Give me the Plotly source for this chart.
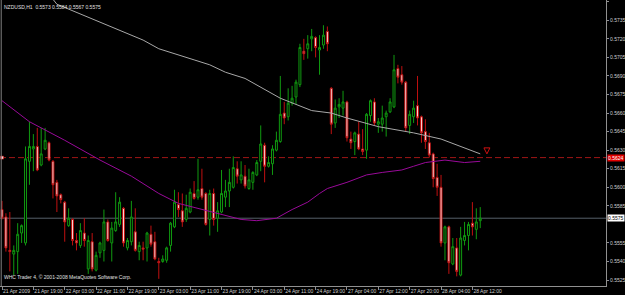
import plotly.graph_objects as go

symbol_header = "NZDUSD,H1  0.5573 0.5584 0.5567 0.5575"
footer_text = "WHC Trader 4, © 2001-2008 MetaQuotes Software Corp."

opens = [0.5582,0.5576,0.5549,0.5546,0.5548,0.5563,0.5555,0.5621,0.5631,0.5633,
         0.5618,0.5631,0.5636,0.5621,0.5604,0.5594,0.5588,0.5569,0.5574,0.5557,
         0.5553,0.5563,0.5534,0.5556,0.5533,0.5547,0.5549,0.5572,0.5555,0.5565,
         0.5570,0.5583,0.5551,0.5556,0.5564,0.5548,0.5551,0.5551,0.5562,0.5556,
         0.5540,0.5540,0.5541,0.5553,0.5568,0.5586,0.5581,0.5574,0.5580,0.5595,
         0.5592,0.5599,0.5595,0.5574,0.5595,0.5575,0.5580,0.5592,0.5597,0.5600,
         0.5615,0.5606,0.5609,0.5599,0.5604,0.5610,0.5621,0.5634,0.5617,0.5619,
         0.5630,0.5637,0.5660,0.5657,0.5668,0.5673,0.5683,0.5710,0.5712,0.5720,
         0.5721,0.5711,0.5715,0.5726,0.5680,0.5652,0.5665,0.5664,0.5669,0.5639,
         0.5637,0.5643,0.5631,0.5630,0.5658,0.5669,0.5651,0.5651,0.5657,0.5661,
         0.5665,0.5696,0.5691,0.5685,0.5650,0.5657,0.5666,0.5657,0.5645,0.5636,
         0.5627,0.5608,0.5600,0.5555,0.5568,0.5538,0.5551,0.5529,0.5557,0.5561,
         0.5571,0.5566,0.5573]
highs = [0.5589,0.5579,0.5580,0.5553,0.5571,0.5570,0.5633,0.5653,0.5643,0.5648,
         0.5648,0.5648,0.5637,0.5622,0.5606,0.5595,0.5589,0.5583,0.5575,0.5563,
         0.5571,0.5575,0.5561,0.5563,0.5548,0.5556,0.5582,0.5574,0.5572,0.5596,
         0.5592,0.5584,0.5559,0.5589,0.5583,0.5556,0.5556,0.5564,0.5569,0.5564,
         0.5543,0.5545,0.5552,0.5572,0.5598,0.5596,0.5595,0.5594,0.5599,0.5605,
         0.5623,0.5615,0.5596,0.5598,0.5599,0.5588,0.5614,0.5606,0.5615,0.5625,
         0.5621,0.5621,0.5618,0.5615,0.5613,0.5622,0.5650,0.5636,0.5625,0.5634,
         0.5645,0.5690,0.5669,0.5680,0.5682,0.5687,0.5716,0.5720,0.5723,0.5728,
         0.5722,0.5723,0.5731,0.5730,0.5681,0.5671,0.5672,0.5678,0.5670,0.5645,
         0.5645,0.5653,0.5647,0.5660,0.5671,0.5672,0.5656,0.5666,0.5662,0.5672,
         0.5707,0.5699,0.5698,0.5686,0.5662,0.5670,0.5690,0.5658,0.5655,0.5644,
         0.5628,0.5619,0.5610,0.5569,0.5569,0.5559,0.5559,0.5568,0.5572,0.5572,
         0.5588,0.5583,0.5584]
lows = [0.5574,0.5548,0.5532,0.5529,0.5530,0.5555,0.5553,0.5602,0.5613,0.5613,
        0.5617,0.5630,0.5621,0.5591,0.5580,0.5587,0.5556,0.5568,0.5553,0.5549,
        0.5551,0.5552,0.5530,0.5532,0.5532,0.5543,0.5540,0.5556,0.5540,0.5564,
        0.5568,0.5552,0.5549,0.5553,0.5548,0.5541,0.5541,0.5540,0.5552,0.5541,
        0.5526,0.5539,0.5539,0.5548,0.5567,0.5576,0.5568,0.5572,0.5579,0.5590,
        0.5590,0.5590,0.5569,0.5561,0.5569,0.5564,0.5579,0.5584,0.5584,0.5599,
        0.5603,0.5603,0.5599,0.5598,0.5598,0.5609,0.5613,0.5604,0.5616,0.5610,
        0.5629,0.5636,0.5651,0.5654,0.5666,0.5667,0.5681,0.5703,0.5704,0.5710,
        0.5705,0.5691,0.5712,0.5710,0.5643,0.5648,0.5656,0.5658,0.5637,0.5631,
        0.5626,0.5630,0.5626,0.5623,0.5653,0.5650,0.5644,0.5645,0.5641,0.5660,
        0.5664,0.5684,0.5683,0.5645,0.5643,0.5652,0.5650,0.5636,0.5631,0.5624,
        0.5600,0.5593,0.5552,0.5541,0.5530,0.5537,0.5528,0.5528,0.5553,0.5549,
        0.5561,0.5558,0.5567]
closes = [0.5575,0.5551,0.5548,0.5549,0.5562,0.5569,0.5623,0.5633,0.5633,0.5614,
          0.5627,0.5638,0.5622,0.5602,0.5593,0.5590,0.5572,0.5575,0.5557,0.5555,
          0.5565,0.5557,0.5557,0.5534,0.5545,0.5555,0.5572,0.5557,0.5567,0.5572,
          0.5588,0.5555,0.5557,0.5576,0.5549,0.5553,0.5550,0.5563,0.5554,0.5542,
          0.5539,0.5542,0.5551,0.5571,0.5588,0.5582,0.5572,0.5583,0.5596,0.5591,
          0.5598,0.5592,0.5570,0.5595,0.5574,0.5581,0.5595,0.5597,0.5604,0.5616,
          0.5609,0.5610,0.5601,0.5606,0.5612,0.5620,0.5635,0.5617,0.5620,0.5631,
          0.5638,0.5659,0.5656,0.5668,0.5672,0.5685,0.5713,0.5708,0.5716,0.5722,
          0.5713,0.5713,0.5723,0.5716,0.5651,0.5664,0.5667,0.5669,0.5640,0.5636,
          0.5644,0.5631,0.5629,0.5659,0.5670,0.5652,0.5653,0.5656,0.5660,0.5669,
          0.5695,0.5689,0.5685,0.5648,0.5659,0.5664,0.5656,0.5644,0.5637,0.5626,
          0.5607,0.5600,0.5555,0.5568,0.5539,0.5552,0.5532,0.5559,0.5561,0.5570,
          0.5568,0.5572,0.5575]

# slow moving average (silver) read at selected bars
ma_slow_bars = [13, 14, 36, 40, 49, 53, 57, 62, 71, 79, 84, 88, 96, 105, 112, 118, 122]
ma_slow_vals = [0.5752, 0.5748, 0.5719, 0.5712, 0.5703, 0.5699, 0.5693, 0.5688, 0.5672,
                0.5662, 0.5660, 0.5656, 0.5649, 0.5644, 0.5639, 0.5632, 0.5627]
# purple moving average read at selected bars
ma_fast_bars = [0, 7, 16, 25, 33, 40, 45, 51, 56, 61, 65, 70, 74, 78, 81, 83, 88, 93,
                97, 102, 105, 108, 113, 118, 122]
ma_fast_vals = [0.5670, 0.5653, 0.5638, 0.5622, 0.5609, 0.5595, 0.5587, 0.5582, 0.5578,
                0.5574, 0.5573, 0.5575, 0.5582, 0.5588, 0.5595, 0.5599, 0.5604, 0.5610,
                0.5612, 0.5614, 0.5617, 0.5620, 0.5622, 0.5620, 0.5621]

alert_level = 0.5624
last_price = 0.5575
arrow_bar = 123.7
arrow_price = 0.5627

tick_labels = ["21 Apr 2009", "21 Apr 19:00", "22 Apr 03:00", "22 Apr 11:00", "22 Apr 19:00",
               "23 Apr 03:00", "23 Apr 11:00", "23 Apr 19:00", "24 Apr 03:00", "24 Apr 11:00",
               "24 Apr 19:00", "27 Apr 04:00", "27 Apr 12:00", "27 Apr 20:00", "28 Apr 04:00",
               "28 Apr 12:00"]
tick_bars = [8 * k for k in range(len(tick_labels))]
price_ticks = [0.5750, 0.5735, 0.5720, 0.5705, 0.5690, 0.5675, 0.5660, 0.5645, 0.5630,
               0.5615, 0.5600, 0.5585, 0.5555, 0.5540, 0.5525]

bars = list(range(len(opens)))
FONT = "Liberation Sans"

fig = go.Figure()
fig.add_trace(go.Candlestick(
    x=bars, open=opens, high=highs, low=lows, close=closes,
    increasing=dict(line=dict(color="#109a10", width=1), fillcolor="#000000"),
    decreasing=dict(line=dict(color="#c01010", width=1), fillcolor="#ffe4e4"),
    whiskerwidth=0, showlegend=False, hoverinfo="skip"))
fig.add_trace(go.Scatter(x=ma_slow_bars, y=ma_slow_vals, mode="lines",
                         line=dict(color="#a8a8a8", width=1), showlegend=False, hoverinfo="skip"))
fig.add_trace(go.Scatter(x=ma_fast_bars, y=ma_fast_vals, mode="lines",
                         line=dict(color="#990a99", width=1), showlegend=False, hoverinfo="skip"))
fig.add_trace(go.Scatter(x=[arrow_bar], y=[arrow_price], mode="markers",
                         marker=dict(symbol="arrow-down-open", size=6, color="#d01010",
                                     line=dict(width=1, color="#d01010")),
                         showlegend=False, hoverinfo="skip"))
fig.add_trace(go.Scatter(x=[0], y=[alert_level], mode="markers",
                         marker=dict(symbol="square", size=3, color="#ffd0d0",
                                     line=dict(width=0.5, color="#d01010")),
                         showlegend=False, hoverinfo="skip"))

fig.add_shape(type="line", xref="paper", x0=0, x1=1, yref="y", y0=alert_level, y1=alert_level,
              line=dict(color="#a01515", width=1, dash="6px,3px"), layer="below")
fig.add_shape(type="line", xref="paper", x0=0, x1=1, yref="y", y0=last_price, y1=last_price,
              line=dict(color="#55606a", width=1), layer="below")
fig.add_shape(type="line", xref="paper", x0=0.002, x1=0.002, yref="paper", y0=0, y1=1,
              line=dict(color="#808080", width=1))

fig.add_annotation(xref="paper", yref="paper", x=0.004, y=1, xanchor="left", yanchor="top",
                   yshift=-2, text=symbol_header, showarrow=False,
                   font=dict(family=FONT, size=5, color="#e0e0e0"))
fig.add_annotation(xref="paper", yref="paper", x=0.004, y=0.032, xanchor="left", yanchor="middle",
                   text=footer_text, showarrow=False,
                   font=dict(family=FONT, size=5, color="#e0e0e0"))
fig.add_annotation(xref="paper", yref="y", x=1, y=alert_level, xanchor="left", yanchor="middle",
                   xshift=1, text=f"{alert_level:.4f}", showarrow=False, bgcolor="#e00000",
                   borderpad=0, font=dict(family=FONT, size=5, color="#ffffff"))
fig.add_annotation(xref="paper", yref="y", x=1, y=last_price, xanchor="left", yanchor="middle",
                   xshift=1, text=f"{last_price:.4f}", showarrow=False, bgcolor="#ffffff",
                   borderpad=0, font=dict(family=FONT, size=5, color="#000000"))

fig.update_layout(
    width=625, height=295,
    margin=dict(l=0, r=19, t=0, b=9, autoexpand=False),
    paper_bgcolor="#000000", plot_bgcolor="#000000",
    xaxis=dict(range=[-0.51, 154.08], showgrid=False, zeroline=False,
               showline=True, linecolor="#909090", linewidth=1,
               tickmode="array", tickvals=tick_bars, ticktext=tick_labels,
               ticks="outside", ticklen=3, tickcolor="#909090", tickangle=0,
               ticklabelposition="outside right", automargin=False,
               tickfont=dict(family=FONT, size=5, color="#d0d0d0"),
               rangeslider=dict(visible=False), fixedrange=True),
    yaxis=dict(side="right", range=[0.55202, 0.57514], showgrid=False, zeroline=False,
               showline=True, linecolor="#909090", linewidth=1, automargin=False,
               tickmode="array", tickvals=price_ticks,
               ticktext=[f"{v:.4f}" for v in price_ticks],
               ticks="outside", ticklen=2, tickcolor="#909090",
               tickfont=dict(family=FONT, size=5, color="#d0d0d0"), fixedrange=True),
)

fig.write_html("out.html")
